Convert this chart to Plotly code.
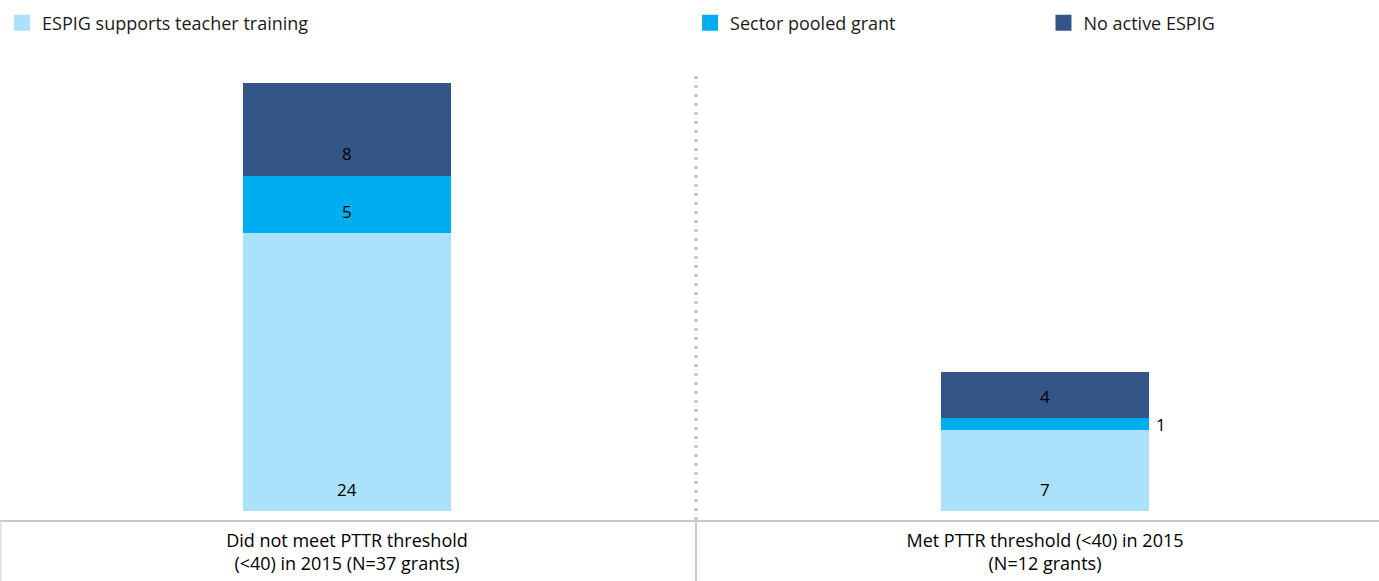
import plotly.graph_objects as go

categories = ["Did not meet PTTR threshold<br>(<40) in 2015 (N=37 grants)",
              "Met PTTR threshold (<40) in 2015<br>(N=12 grants)"]
series_names = ["ESPIG supports teacher training", "Sector pooled grant", "No active ESPIG"]
teacher_training = [24, 7]
sector_pooled = [5, 1]
no_active = [8, 4]

colors = ["#ABE1FA", "#00AEEF", "#345687"]
series_values = [teacher_training, sector_pooled, no_active]
legend_ids = ["legend", "legend2", "legend3"]

FONT = "Open Sans"
fig = go.Figure()

for name, vals, col in zip(series_names, series_values, colors):
    fig.add_trace(go.Bar(x=categories, y=vals, name=name, marker=dict(color=col, line=dict(width=0)),
                         width=0.298, showlegend=False, hoverinfo="skip"))

# legend entries (16px squares)
for name, col, lid in zip(series_names, colors, legend_ids):
    fig.add_trace(go.Scatter(x=[None], y=[None], mode="markers", name=name,
                             marker=dict(symbol="square", size=16, color=col),
                             legend=lid, showlegend=True))

# value labels
annotations = []
for ci, cat in enumerate(categories):
    base = 0
    for vals in series_values:
        v = vals[ci]
        if v >= 2:
            annotations.append(dict(x=cat, y=base, xref="x", yref="y", text=str(v), showarrow=False,
                                    yanchor="middle", yshift=22, font=dict(family=FONT, size=17, color="#000000")))
        else:
            annotations.append(dict(x=cat, y=base + v / 2, xref="x", yref="y", text=str(v), showarrow=False,
                                    xanchor="left", xshift=109, yanchor="middle",
                                    font=dict(family=FONT, size=17, color="#000000")))
        base += v

shapes = [
    # dotted divider
    dict(type="line", xref="x", yref="paper", x0=0.5, x1=0.5, y0=-0.02, y1=0.971,
         line=dict(color="#BDBDBD", width=3, dash="3px,6px")),
    # table lines
    dict(type="line", xref="paper", yref="paper", x0=0, x1=1, y0=-0.0222, y1=-0.0222,
         line=dict(color="#C8C8C8", width=2)),
    dict(type="line", xref="x", yref="paper", x0=0.5, x1=0.5, y0=-0.0222, y1=-0.16,
         line=dict(color="#C8C8C8", width=2)),
    dict(type="line", xref="paper", yref="paper", x0=0.0005, x1=0.0005, y0=-0.0222, y1=-0.16,
         line=dict(color="#E0E0E0", width=2)),
]

legend_common = dict(orientation="h", yanchor="middle", y=1.082, xanchor="left",
                     font=dict(family=FONT, size=18, color="#1A1A1A"), bgcolor="rgba(0,0,0,0)")

fig.update_layout(
    width=1379, height=581,
    margin=dict(l=0, r=0, t=60, b=70),
    barmode="stack",
    plot_bgcolor="white", paper_bgcolor="white",
    font=dict(family=FONT, size=16, color="#000000"),
    xaxis=dict(range=[-0.4971, 1.4785], showgrid=False, zeroline=False, showline=False,
               ticks="", tickfont=dict(family=FONT, size=18, color="#000000"), ticklabelstandoff=17),
    yaxis=dict(range=[0, 39], visible=False, showgrid=False, zeroline=False),
    legend=dict(x=0.0015, **legend_common),
    legend2=dict(x=0.5004, **legend_common),
    legend3=dict(x=0.7567, **legend_common),
    annotations=annotations,
    shapes=shapes,
)

fig.write_html("out.html")
